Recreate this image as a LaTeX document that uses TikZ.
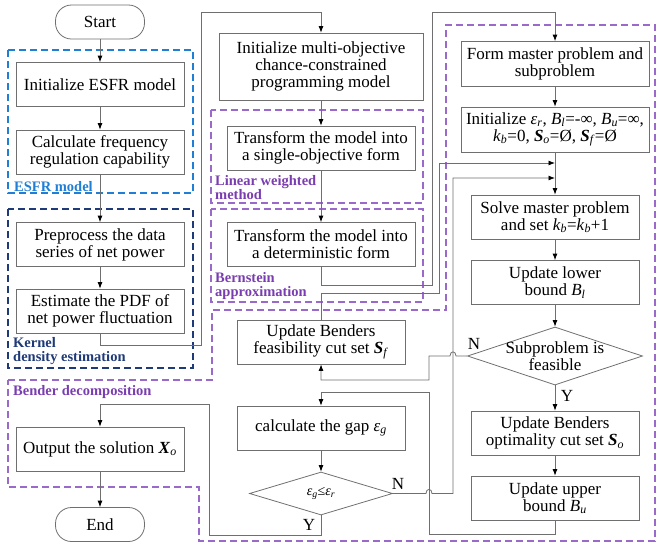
\documentclass[tikz,border=0pt]{standalone}
\usepackage{amsmath,amssymb}
\usepackage{fontspec}
\setmainfont{Liberation Serif}
\usetikzlibrary{arrows.meta,positioning,calc,shapes.geometric}
\definecolor{esfrblue}{HTML}{1F7FD4}
\definecolor{kdenavy}{HTML}{1F3A78}
\definecolor{bdpurple}{HTML}{7A3DB0}
\definecolor{bdline}{HTML}{9A6ACB}
\definecolor{linegray}{HTML}{6F6F6F}
% italic symbol with italic index, and the bold set version
\newcommand{\vsub}[2]{\textit{#1}\textsubscript{\textit{#2}}}
\newcommand{\bsub}[2]{\textbf{\textit{#1}}\textsubscript{\textit{#2}}}

\begin{document}
\begin{tikzpicture}[
  x=1pt, y=-1pt,
  font=\fontsize{17}{17}\selectfont,
  >={Latex[length=6.5pt,width=5pt,color=black]},
  proc/.style={draw=linegray, line width=0.8pt, align=center, inner sep=1pt,
    minimum width=168pt, minimum height=44pt},
  term/.style={draw=linegray, line width=0.8pt, rounded corners=16pt,
    minimum width=89pt, minimum height=34pt},
  decide/.style={draw=linegray, line width=0.8pt, diamond, aspect=3,
    align=center, inner sep=0pt},
  flow/.style={draw=linegray, line width=0.8pt, ->},
  grp/.style={line width=1.1pt, dash pattern=on 7pt off 4pt},
  grplab/.style={font=\bfseries\fontsize{14.5}{14}\selectfont,
    anchor=north west, align=left, inner sep=0pt},
]
\useasboundingbox (0,0) rectangle (657,547);

% ---------- dashed groups ----------
\draw[grp, esfrblue] (8,50) rectangle (193,193);
\draw[grp, kdenavy] (8,209) rectangle (193,368);
\draw[grp, bdline] (211,110) rectangle (423,203);
\draw[grp, bdline] (211,209) rectangle (423,302);
\draw[grp, bdline] (8,380) -- (212,380) -- (212,310) -- (446,310) -- (446,25)
  -- (655,25) -- (655,541) -- (199,541) -- (199,487) -- (8,487) -- cycle;

\node[grplab, text=esfrblue] (esfrlab) at (14,181) {ESFR model};
\node[grplab, text=kdenavy] (kdelab) at (13,337) {Kernel\\density estimation};
\node[grplab, text=bdpurple] (lwmlab) at (215,175) {Linear weighted\\method};
\node[grplab, text=bdpurple] (bernlab) at (215,272) {Bernstein\\approximation};
\node[grplab, text=bdpurple] (bdlab) at (13,385) {Bender decomposition};

% ---------- left column ----------
\node[term] (start) at (100,22) {Start};
\node[proc] (esfr) at (100,84.5) {Initialize ESFR model};
\node[proc] (freq) at (100,152) {Calculate frequency\\regulation capability};
\node[proc] (prep) at (100,244.5) {Preprocess the data\\series of net power};
\node[proc] (pdf) at (100,311) {Estimate the PDF of\\net power fluctuation};
\node[proc] (output) at (100,449) {Output the solution \bsub{X}{o}};
\node[term] (stop) at (100,524.5) {End};

% ---------- middle column ----------
\node[proc, minimum width=204pt, minimum height=67pt] (multi) at (321,66.5)
  {Initialize multi-objective\\chance-constrained\\programming model};
\node[proc, minimum width=188pt] (single) at (321,148)
  {Transform the model into\\a single-objective form};
\node[proc, minimum width=188pt] (determ) at (321,244.5)
  {Transform the model into\\a deterministic form};
\node[proc] (feascut) at (321,342)
  {Update Benders\\feasibility cut set \bsub{S}{f}};
\node[proc] (gap) at (321,428) {calculate the gap \vsub{ε}{g}};
\node[decide, minimum width=143pt, minimum height=43pt,
  font=\fontsize{14}{14}\selectfont] (conv) at (321,493.5)
  {\vsub{ε}{g}≤\vsub{ε}{r}};

% ---------- right column ----------
\node[proc, minimum width=188pt, minimum height=45pt] (master) at (555,64)
  {Form master problem and\\subproblem};
\node[proc, minimum width=188pt, minimum height=45pt] (init) at (555,129.5)
  {Initialize \vsub{ε}{r}, \vsub{B}{l}=-∞, \vsub{B}{u}=∞,\\
   \vsub{k}{b}=0, \bsub{S}{o}=Ø, \bsub{S}{f}=Ø};
\node[proc] (solve) at (555,217) {Solve master problem\\and set \vsub{k}{b}=\vsub{k}{b}+1};
\node[proc] (lower) at (555,282.5) {Update lower\\bound \vsub{B}{l}};
\node[decide, minimum width=175pt, minimum height=58pt, inner sep=-6pt] (feas)
  at (555,356) {Subproblem is\\feasible};
\node[proc] (optcut) at (555,433) {Update Benders\\optimality cut set \bsub{S}{o}};
\node[proc] (upper) at (555,498) {Update upper\\bound \vsub{B}{u}};

% branch labels
\node (feasN) at (474,344) {N};
\node (feasY) at (567,396) {Y};
\node (convN) at (398,484) {N};
\node (convY) at (309,525) {Y};

% rails
\coordinate (railA) at (201,12);
\coordinate (railB) at (432,12);
\coordinate (railC) at (429,392);
\coordinate (railD) at (209,404);
\coordinate (railE) at (453,178);
\coordinate (railF) at (439,163);
\coordinate (inE) at (555,178);
\coordinate (inF) at (555,163);

% ---------- connectors ----------
\draw[flow] (start) -- (esfr);
\draw[flow] (esfr) -- (freq);
\draw[flow] (freq) -- (prep);
\draw[flow] (prep) -- (pdf);
\draw[flow] (pdf.south) -- ++(0,12) -| (railA) -| (multi.north);
\draw[flow] (multi) -- (single);
\draw[flow] (single) -- (determ);
\draw[flow] (determ.south) -- ++(0,18) -| (railB) -| (master.north);
\draw[flow] (master) -- (init);
\draw[flow] (init) -- (solve);
\draw[flow] (solve) -- (lower);
\draw[flow] (lower) -- (feas);
\draw[flow] (feas) -- (optcut);
\draw[flow] (optcut) -- (upper);
\draw[flow] (upper.south) -- ++(0,14) -| (railC) -| (gap.north);
\draw[flow] (gap) -- (conv);
\draw[flow] (conv.south) -- ++(0,20) -| (railD) -| (output.north);
\draw[flow] (output) -- (stop);
% N of gap test, hop over the rail at x=429
\draw[flow] (conv.east) -- (426,493.5) .. controls (426,488) and (432,488) .. (432,493.5)
  -- (railE |- conv.east) -- (railE) -- (inE);
% N of subproblem test, hop over the rail at x=453
\draw[flow] (feas.west) -- (456,356) .. controls (456,350.5) and (450,350.5) .. (450,356)
  -- (429,356) -- (429,380) -| (feascut.south);
\draw[flow] (feascut.north) -- (321,293) -| (railF) -- (inF);
\end{tikzpicture}
\end{document}
